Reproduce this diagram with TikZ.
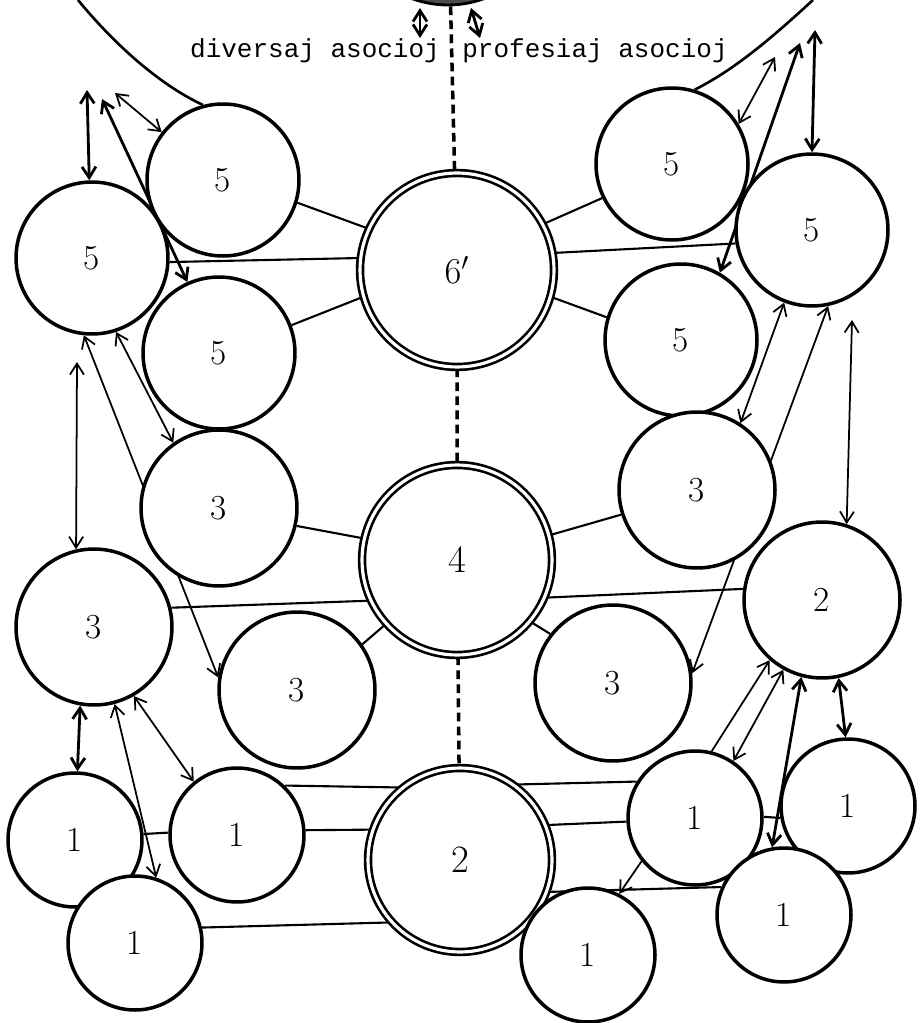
\documentclass[tikz,border=0pt]{standalone}
\usepackage{fontspec}
\usepackage{tikz}
\usetikzlibrary{
  arrows.meta,
  backgrounds
}
\newfontfamily\tajpo{Liberation Mono}
\tikzset{
  rondo/.style={
    draw, circle, fill=white, line width=2pt, inner sep=0pt,
    font=\fontsize{20}{24}\selectfont
  },
  kvin/.style={rondo, minimum size=3.04cm},
  tri/.style={rondo, minimum size=3.12cm},
  unu/.style={rondo, minimum size=2.68cm},
  centro/.style={rondo, double=white, double distance=1.8pt, line width=1.5pt, font=\fontsize{22}{26}\selectfont},
  supro/.style={draw, circle, fill=black!70, line width=1.6pt, minimum size=4.2cm},
  ligo/.style={line width=1.2pt},
  sago/.style={{Straight Barb[length=2.2mm,width=2.8mm]}-{Straight Barb[length=2.2mm,width=2.8mm]}, line width=1pt},
  dikasago/.style={sago, line width=1.6pt},
  unusago/.style={-{Straight Barb[length=2.2mm,width=2.8mm]}, line width=1pt},
  streko/.style={line width=2pt, dash pattern=on 5pt off 3pt},
  arko/.style={line width=1.5pt},
  teksto/.style={font=\tajpo\fontsize{14.8}{17}\selectfont, anchor=base, inner sep=0pt}
}

\begin{document}
\begin{tikzpicture}[x=0.02cm, y=-0.02cm]
  \useasboundingbox (0,0) rectangle (921,1023);
  \clip (0,0) rectangle (921,1023);
  \node[supro] (supro) at (448,-100) {};
  \node[centro, minimum size=3.88cm] (c6) at (457,270) {$6'$};
  \node[centro, minimum size=3.8cm] (c4) at (457,560) {4};
  \node[centro, minimum size=3.68cm] (c2) at (460,860) {2};
  \node[kvin] (l5a) at (223,180) {5};
  \node[kvin] (l5b) at (92,258) {5};
  \node[kvin] (l5c) at (219,353) {5};
  \node[kvin] (r5a) at (672,164) {5};
  \node[kvin] (r5b) at (812,230) {5};
  \node[kvin] (r5c) at (681,340) {5};
  \node[tri] (l3a) at (219,508) {3};
  \node[tri] (l3b) at (94,627) {3};
  \node[tri] (l3c) at (297,690) {3};
  \node[tri] (r3a) at (697,490) {3};
  \node[tri] (r2) at (822,600) {2};
  \node[tri] (r3c) at (613,683) {3};
  \node[unu] (l1a) at (75,840) {1};
  \node[unu] (l1b) at (237,835) {1};
  \node[unu] (l1c) at (135,943) {1};
  \node[unu] (r1a) at (695,818) {1};
  \node[unu] (r1b) at (848,806) {1};
  \node[unu] (r1c) at (784,915) {1};
  \node[unu] (r1d) at (588,955) {1};
  \node[teksto] (div) at (315,58) {diversaj asocioj};
  \node[teksto] (prof) at (595,58) {profesiaj asocioj};
  \coordinate (sa1) at (420,8);
  \coordinate (sa2) at (420,38);
  \coordinate (sb1) at (471,8);
  \coordinate (sb2) at (480,38);
  \coordinate (pl1) at (87,90);
  \coordinate (pl2) at (102,99);
  \coordinate (pl3) at (115,93);
  \coordinate (pl4) at (77,362);
  \coordinate (pr1) at (775,57);
  \coordinate (pr2) at (800,43);
  \coordinate (pr3) at (815,30);
  \coordinate (pr4) at (852,320);
  \begin{scope}[on background layer]
    \draw[streko] (supro) -- (c6) -- (c4) -- (c2);
    \draw[arko] (78,0) .. controls (115,45) and (160,85) .. (l5a.105);
    \draw[arko] (813,0) .. controls (778,32) and (738,68) .. (r5a.73);
    \draw[dikasago] (sa1) -- (sa2);
    \draw[dikasago] (sb1) -- (sb2);
    \draw[ligo] (l5a.343) -- (c6.155);
    \draw[ligo] (l5b.357) -- (c6.173);
    \draw[ligo] (l5c.21) -- (c6.196);
    \draw[ligo] (c6.28) -- (r5a.206);
    \draw[ligo] (c6.10) -- (r5b.190);
    \draw[ligo] (c6.344) -- (r5c.163);
    \draw[ligo] (l3a.347) -- (c4.167);
    \draw[ligo] (l3b.14) -- (c4.205);
    \draw[ligo] (l3c.35) -- (c4.222);
    \draw[ligo] (c4.15) -- (r3a.198);
    \draw[ligo] (c4.337) -- (r2.172);
    \draw[ligo] (c4.320) -- (r3c.142);
    \draw[ligo] (l1a.5) -- (l1b.178);
    \draw[ligo] (l1b.46) -- (c2.129);
    \draw[ligo] (l1b.4) -- (c2.161);
    \draw[ligo] (l1c.13) -- (c2.222);
    \draw[ligo] (c2.54) -- (r1a.148);
    \draw[ligo] (c2.22) -- (r1a.183);
    \draw[ligo] (c2.340) -- (r1c.156);
    \draw[ligo] (r1a.1) -- (r1b.190);
    \draw[dikasago] (pl1) -- (l5b.92);
    \draw[dikasago] (pl2) -- (l5c.114);
    \draw[sago] (pl3) -- (l5a.142);
    \draw[sago] (pl4) -- (l3b.103);
    \draw[sago] (l5b.264) -- (l3c.171);
    \draw[sago] (l5b.288) -- (l3a.125);
    \draw[sago] (pr1) -- (r5a.31);
    \draw[dikasago] (pr2) -- (r5c.60);
    \draw[dikasago] (pr3) -- (r5b.90);
    \draw[sago] (r5b.249) -- (r3a.57);
    \draw[sago] (r5b.282) -- (r3c.7);
    \draw[sago] (pr4) -- (r2.72);
    \draw[unusago] (r1a.76) -- (r2.229);
    \draw[sago] (r2.241) -- (r1a.56);
    \draw[dikasago] (r2.255) -- (r1c.100);
    \draw[dikasago] (r2.282) -- (r1b.92);
    \draw[dikasago] (l3b.260) -- (l1a.88);
    \draw[sago] (l3b.285) -- (l1c.72);
    \draw[sago] (l3b.300) -- (l1b.129);
    \draw[unusago] (r1a.219) -- (r1d.63);
  \end{scope}
\end{tikzpicture}
\end{document}
